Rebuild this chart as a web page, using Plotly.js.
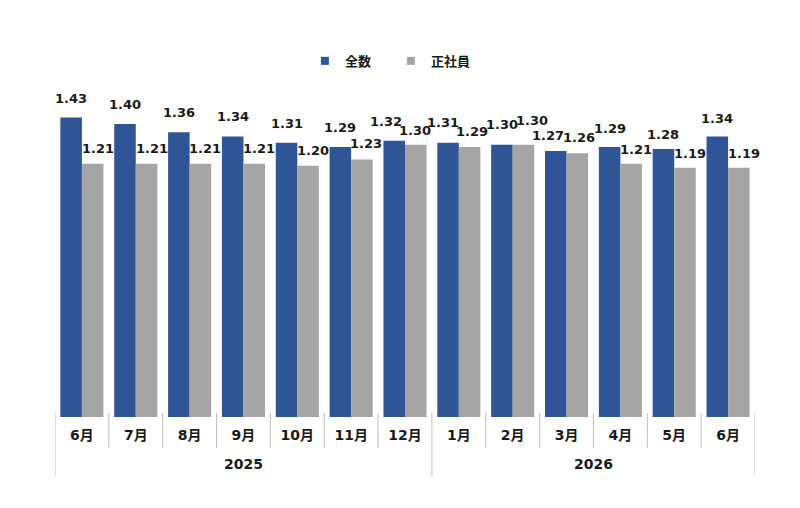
<!DOCTYPE html>
<html>
<head>
<meta charset="utf-8">
<script src="https://cdn.plot.ly/plotly-3.0.1.min.js"></script>
<style>
  html, body { margin: 0; padding: 0; background: #fff; }
  #chart { width: 800px; height: 508px; }
</style>
</head>
<body>
<div id="chart"></div>
<script>
const years = ["2025", "2025", "2025", "2025", "2025", "2025", "2025",
               "2026", "2026", "2026", "2026", "2026", "2026"];
// second 6月 carries a zero-width space so the category stays distinct
const months = ["6月", "7月", "8月", "9月", "10月", "11月", "12月",
                "1月", "2月", "3月", "4月", "5月", "6月\u200b"];
const total = [1.43, 1.40, 1.36, 1.34, 1.31, 1.29, 1.32, 1.31, 1.30, 1.27, 1.29, 1.28, 1.34];
const regular = [1.21, 1.21, 1.21, 1.21, 1.20, 1.23, 1.30, 1.29, 1.30, 1.26, 1.21, 1.19, 1.19];

// label placement tweaks (px), as in the source chart
const totalDx = [0, 0, 0, 0, 0, 0, -8, -5, 0, -8, 0, 0, 0];
const totalGap = [14, 14, 14, 14, 14, 14, 14, 15, 15, 10, 13, 9, 12];
const regularDx = [5, 5, 5, 5, 5, 4, -1, 2, 9, 2, 5, 5, 5];
const regularGap = [10, 10, 10, 10, 10, 10, 9, 10, 19, 10, 9, 9, 9];

const fontFam = "'DejaVu Sans', 'Noto Sans CJK JP', sans-serif";
const ink = "#1a1a1a";
const blue = "#2F5597";
const gray = "#A5A5A5";
const lineGray = "#BFBFBF";

const barHalf = 10.77; // half of one bar in px (700/13 * 0.8 / 2 / 2)

const series = [
  { name: "全数", y: total, color: blue },
  { name: "正社員", y: regular, color: gray }
];

const traces = series.map(s => ({
  type: "bar",
  name: s.name,
  x: months,
  y: s.y,
  marker: { color: s.color },
  showlegend: false,
  hoverinfo: "x+y"
}));
// legend entries with small square keys
series.forEach(s => traces.push({
  type: "scatter",
  mode: "markers",
  name: s.name,
  x: [null],
  y: [null],
  marker: { symbol: "square", size: 8, color: s.color },
  showlegend: true,
  hoverinfo: "skip"
}));

const annotations = [];
function addLabels(vals, dx, gap, side) {
  vals.forEach((v, i) => {
    annotations.push({
      x: i, y: v, xref: "x", yref: "y",
      text: v.toFixed(2),
      showarrow: false,
      xanchor: "center", yanchor: "bottom",
      xshift: side * barHalf + dx[i],
      yshift: gap[i] - 4,
      font: { family: fontFam, size: 13, color: ink, weight: "bold" }
    });
  });
}
addLabels(total, totalDx, totalGap, -1);
addLabels(regular, regularDx, regularGap, 1);

// year labels, centred under their months
const yearNames = [...new Set(years)];
const shapes = [];
yearNames.forEach(yr => {
  const idx = years.map((y, i) => y === yr ? i : -1).filter(i => i >= 0);
  const first = idx[0], last = idx[idx.length - 1];
  annotations.push({
    x: (first + last) / 2, xref: "x",
    y: -0.14, yref: "paper",
    text: yr, showarrow: false,
    xanchor: "center", yanchor: "middle",
    font: { family: fontFam, size: 14, color: ink, weight: "bold" }
  });
});

// separators between months and between years
for (let i = 0; i <= months.length; i++) {
  const b = i - 0.5;
  const yearEdge = i === 0 || i === months.length || years[i] !== years[i - 1];
  shapes.push({
    type: "line", xref: "x", yref: "paper",
    x0: b, x1: b, y0: 0.012, y1: yearEdge ? -0.176 : -0.092,
    line: { color: lineGray, width: 1 }
  });
}

Plotly.newPlot("chart", traces, {
  width: 800,
  height: 508,
  margin: { l: 55, r: 45, t: 82, b: 91 },
  paper_bgcolor: "#fff",
  plot_bgcolor: "#fff",
  barmode: "group",
  bargap: 0.2,
  bargroupgap: 0,
  showlegend: true,
  legend: {
    orientation: "h",
    x: 0.357, xanchor: "left",
    y: 1.063, yanchor: "middle",
    font: { family: fontFam, size: 13, color: ink, weight: "bold" },
    entrywidth: 41,
    entrywidthmode: "pixels",
    traceorder: "normal"
  },
  xaxis: {
    type: "category",
    range: [-0.5, months.length - 0.5],
    showline: false,
    ticks: "",
    showgrid: false,
    zeroline: false,
    ticklabelstandoff: 8,
    tickfont: { family: fontFam, size: 14, color: ink, weight: "bold" }
  },
  yaxis: {
    range: [0, 1.6],
    visible: false,
    showgrid: false,
    zeroline: false
  },
  annotations: annotations,
  shapes: shapes
}, { displayModeBar: false });
</script>
</body>
</html>
